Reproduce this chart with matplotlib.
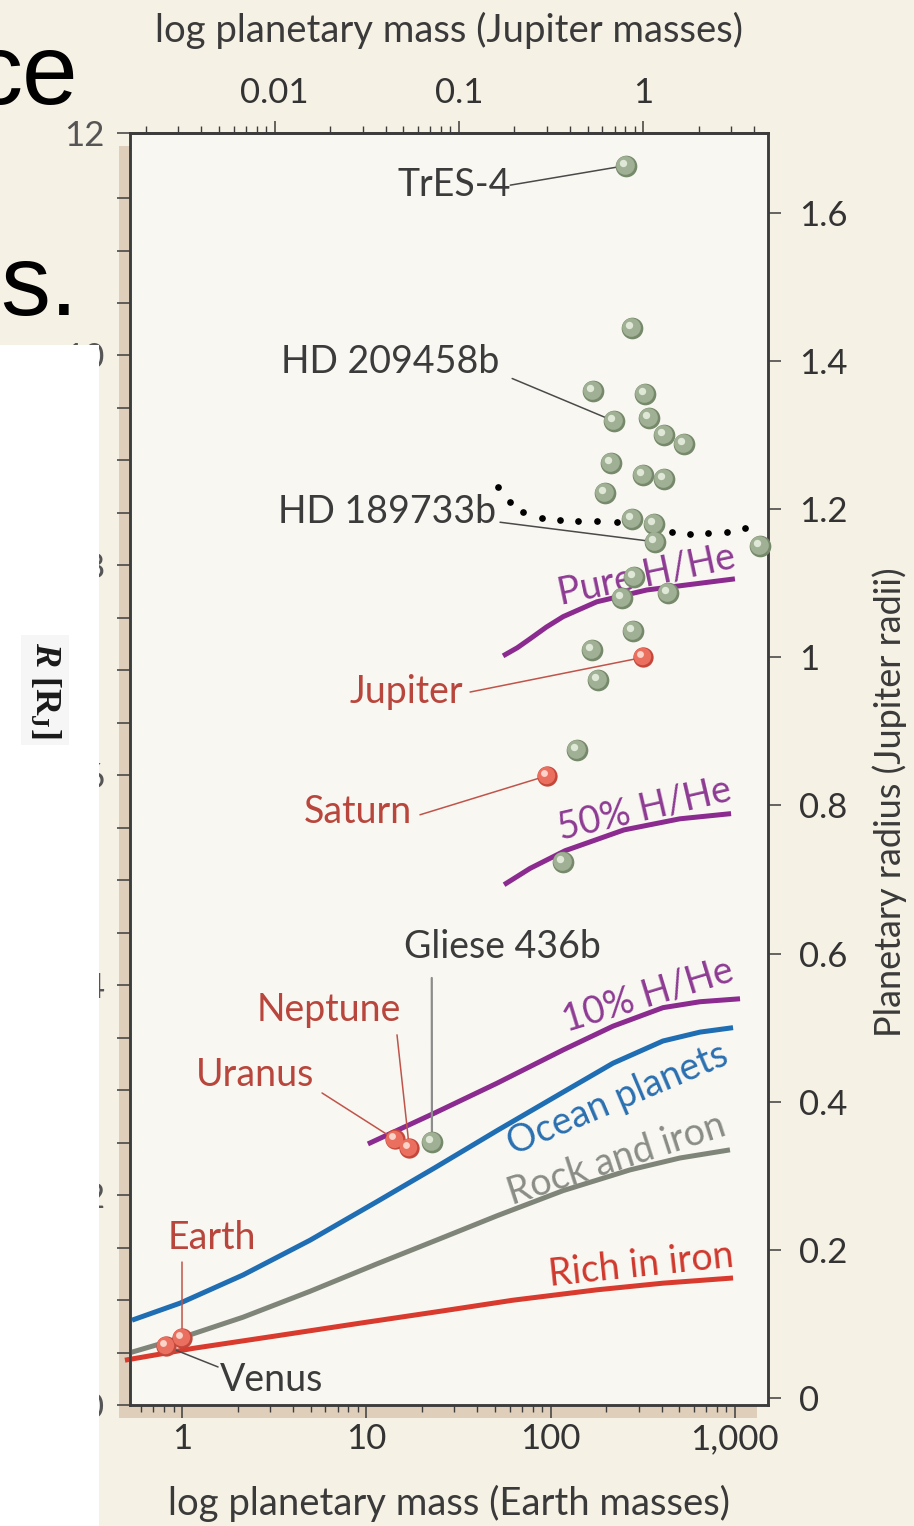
""" Planetary mass-radius diagram with model curves and known planets. """

import numpy as np
import matplotlib.pyplot as plt
from matplotlib.patches import Rectangle
from matplotlib.ticker import FixedLocator, NullFormatter
from matplotlib.transforms import offset_copy

plt.rcParams['font.family'] = ['Lato', 'DejaVu Sans']
# mathtext is only used for the R [R_J] label of the slide underneath
plt.rcParams['mathtext.fontset'] = 'custom'
plt.rcParams['mathtext.rm'] = 'Liberation Serif:bold'
plt.rcParams['mathtext.it'] = 'Liberation Serif:italic:bold'

# ---- Model curves: mass in Earth masses, radius in Jupiter radii ----
iron_mass = [0.49, 1.15, 3.28, 9.25, 25.1, 62.5, 178, 407, 977]
iron_radius = [0.051, 0.067, 0.084, 0.101, 0.117, 0.132, 0.146, 0.155, 0.162]

rock_mass = [0.52, 1.01, 2.14, 4.95, 11.4, 25.1, 51.2, 117, 270, 503, 940]
rock_radius = [0.061, 0.082, 0.109, 0.144, 0.181, 0.215, 0.246, 0.280,
               0.308, 0.324, 0.335]

ocean_mass = [0.535, 0.975, 2.14, 4.95, 11.4, 23.6, 51.2, 117, 218, 407,
              647, 977]
ocean_radius = [0.105, 0.128, 0.166, 0.213, 0.265, 0.311, 0.361, 0.413,
                0.452, 0.482, 0.494, 0.500]

hhe10_mass = [10.2, 23.6, 51.2, 117, 218, 407, 647, 1066]
hhe10_radius = [0.343, 0.385, 0.425, 0.470, 0.502, 0.527, 0.535, 0.539]

hhe50_mass = [55.9, 77.3, 120, 250, 503, 953]
hhe50_radius = [0.693, 0.715, 0.739, 0.767, 0.782, 0.789]

pure_mass = [55.2, 66, 77.3, 95, 117, 178, 333, 1000]
pure_radius = [1.002, 1.013, 1.025, 1.041, 1.055, 1.075, 1.091, 1.106]

dotted_mass = [51.8, 60.2, 70.8, 89.8, 112.5, 140.8, 178.5, 229, 290.5, 364,
               456, 570, 715, 906, 1135]
dotted_radius = [1.230, 1.210, 1.196, 1.188, 1.186, 1.184, 1.184, 1.183,
                 1.180, 1.176, 1.169, 1.167, 1.168, 1.169, 1.175]

# ---- Transiting exoplanets (green spheres) ----
exo_mass = [256.6, 276.6, 169.9, 325, 220.8, 342, 412, 529, 212.6, 317, 412,
            197, 277, 364, 368, 1368, 284, 244, 433, 280, 168, 181, 139,
            116.8, 22.7]
exo_radius = [1.664, 1.445, 1.360, 1.356, 1.319, 1.323, 1.300, 1.288, 1.262,
              1.246, 1.241, 1.222, 1.187, 1.180, 1.156, 1.150, 1.109, 1.080,
              1.087, 1.036, 1.010, 0.969, 0.875, 0.724, 0.346]

# ---- Solar system planets (red spheres) ----
sol_names = ['Jupiter', 'Saturn', 'Neptune', 'Uranus', 'Earth', 'Venus']
sol_mass = [318, 95.2, 17.1, 14.3, 1.0, 0.815]
sol_radius = [1.0, 0.84, 0.338, 0.349, 0.081, 0.070]

# Axis ticks
bottom_ticks = [1, 10, 100, 1000]
bottom_labels = ['1', '10', '100', '1,000']
top_ticks = [0.01, 0.1, 1]
top_labels = ['0.01', '0.1', '1']
right_ticks = [0, 0.2, 0.4, 0.6, 0.8, 1.0, 1.2, 1.4, 1.6]
right_labels = ['0', '0.2', '0.4', '0.6', '0.8', '1', '1.2', '1.4', '1.6']
# left axis belongs to the slide underneath; its "12" sits at the frame top
left_top = 12.12
left_ticks = list(np.arange(0, 12, 0.5)) + [left_top]
left_labels = [f'{v:g}' if v % 2 == 0 else '' for v in left_ticks[:-1]] + ['12']

# Colours
DARK = '#3c3c3c'
PURPLE = '#8b2a8f'
BLUE = '#1f6db3'
GREY = '#80857a'
RED = '#d93a2e'
PLANET_RED = '#b9463c'

# ---- Figure and axes ----
W, H = 914, 1526
fig = plt.figure(figsize=(W / 100, H / 100), dpi=100, facecolor='#f6f1e5')
L, R, T, B = 130, 768, 133, 1405
ax = fig.add_axes([L / W, 1 - B / H, (R - L) / W, (B - T) / H])
ax.set_facecolor('#f8f7f2')

# tan "shadow" behind the plot frame
fig.add_artist(Rectangle(((L - 11) / W, 1 - (B + 13) / H), (R - L) / W,
                         (B - T) / H, transform=fig.transFigure,
                         facecolor='#dfcfba', edgecolor='none', zorder=-1))

ax.set_xscale('log')
ax.set_xlim(0.522, 1512)
ax.set_ylim(0, left_top)
ax.set_xticks(bottom_ticks, labels=bottom_labels)
minor_e = [0.6, 0.7, 0.8, 0.9] + [d * s for d in (1, 10, 100) for s in range(2, 10)]
ax.xaxis.set_minor_locator(FixedLocator(minor_e))
ax.xaxis.set_minor_formatter(NullFormatter())
ax.set_yticks(left_ticks, labels=left_labels)

for sp in ax.spines.values():
    sp.set_color(DARK)
    sp.set_linewidth(1.8)

ax.tick_params(axis='x', which='major', direction='out', length=9, width=1.1,
               color=DARK, labelsize=25, labelcolor='#333333', pad=4)
ax.tick_params(axis='x', which='minor', direction='out', length=5, width=1.0,
               color=DARK)
ax.tick_params(axis='y', direction='out', length=9.5, width=1.1, color=DARK,
               labelsize=25, labelcolor='#555555', pad=9)

ax.set_xlabel('log planetary mass (Earth masses)', fontsize=27.5,
              color='#3a3a3a', va='center')
ax.xaxis.set_label_coords(0.5, -0.077)

# top axis in Jupiter masses
secax = ax.secondary_xaxis('top', functions=(lambda m: m / 317.8,
                                             lambda j: j * 317.8))
secax.set_xticks(top_ticks, labels=top_labels)
minor_j = [d * s for d in (0.001, 0.01, 0.1) for s in range(2, 10)] + [2, 3, 4]
secax.xaxis.set_minor_locator(FixedLocator(minor_j))
secax.xaxis.set_minor_formatter(NullFormatter())
secax.tick_params(which='major', direction='out', length=9, width=1.1,
                  color=DARK, labelsize=25, labelcolor='#333333', pad=8)
secax.tick_params(which='minor', direction='out', length=5, width=1.0,
                  color=DARK)
secax.spines['top'].set_color(DARK)
secax.spines['top'].set_linewidth(1.8)
secax.set_xlabel('log planetary mass (Jupiter masses)', fontsize=27.5,
                 color='#3a3a3a', va='center')
secax.xaxis.set_label_coords(0.5, 1.081, transform=ax.transAxes)

# right axis in Jupiter radii (all data are drawn here)
ax2 = ax.twinx()
ax2.set_ylim(-0.0095, 1.708)
ax2.set_yticks(right_ticks, labels=right_labels)
ax2.tick_params(axis='y', direction='out', length=9.5, width=1.1, color=DARK,
                labelsize=25, labelcolor='#333333', pad=13)
for sp in ax2.spines.values():
    sp.set_color(DARK)
    sp.set_linewidth(1.8)
ax2.set_ylabel('Planetary radius (Jupiter radii)', fontsize=26,
               color='#3a3a3a', rotation=90, va='center', ha='center')
ax2.yaxis.set_label_coords(1.191, 0.474)

# ---- Model curves ----
curve_style = dict(lw=3.6, zorder=2, solid_capstyle='butt',
                   solid_joinstyle='round')
ax2.plot(iron_mass, iron_radius, color=RED, clip_on=False, **curve_style)
ax2.plot(rock_mass, rock_radius, color=GREY, **curve_style)
ax2.plot(ocean_mass, ocean_radius, color=BLUE, **curve_style)
ax2.plot(hhe10_mass, hhe10_radius, color=PURPLE, **curve_style)
ax2.plot(hhe50_mass, hhe50_radius, color=PURPLE, **curve_style)
ax2.plot(pure_mass, pure_radius, color=PURPLE, **curve_style)
ax2.plot(dotted_mass, dotted_radius, 'o', color='black', ms=3.8, zorder=2)

# curve labels (axes fraction positions, rotated along the curves)
curve_labels = [('Pure H/He', 0.810, 0.6525, 12, '#8e3b93'),
                ('50% H/He', 0.807, 0.469, 13, '#8e3b93'),
                ('10% H/He', 0.812, 0.322, 17, '#8e3b93'),
                ('Ocean planets', 0.765, 0.240, 23, '#2a6fb0'),
                ('Rock and iron', 0.763, 0.193, 18, '#8a8d86'),
                ('Rich in iron', 0.801, 0.110, 6, '#d0392d')]
for text, fx, fy, rot, col in curve_labels:
    ax2.text(fx, fy, text, transform=ax2.transAxes, fontsize=27, color=col,
             rotation=rot, rotation_mode='anchor', ha='center', va='center',
             zorder=3)


# ---- Spheres: shaded balls built from three stacked markers ----
def draw_spheres(masses, radii, base, edge, light, size):
    ax2.plot(masses, radii, 'o', ms=size, mfc=edge, mec='none', zorder=5,
             clip_on=False)
    ax2.plot(masses, radii, 'o', ms=size * 0.86, mfc=base, mec='none',
             zorder=5.1, clip_on=False,
             transform=offset_copy(ax2.transData, fig=fig, x=-0.9, y=0.9,
                                   units='dots'))
    ax2.plot(masses, radii, 'o', ms=size * 0.34, mfc=light, mec='none',
             zorder=5.2, clip_on=False,
             transform=offset_copy(ax2.transData, fig=fig, x=-3.0, y=3.0,
                                   units='dots'))


draw_spheres(exo_mass, exo_radius, '#a0b094', '#76896b', '#dfe8d6', 15.6)
draw_spheres(sol_mass, sol_radius, '#ea6f5f', '#c4473b', '#fbd3c8', 14.6)

# ---- Planet labels with leader lines ----
# (name, index, text x/y, line start x/y) in axes fraction
exo_labels = [('TrES-4', 0, 0.508, 0.959, 0.596, 0.959),
              ('HD 209458b', 4, 0.4075, 0.820, 0.599, 0.807),
              ('HD 189733b', 14, 0.403, 0.702, 0.580, 0.694),
              ('Gliese 436b', 24, 0.583, 0.360, 0.473, 0.3357)]
for name, i, tx, ty, lx, ly in exo_labels:
    ax2.text(tx, ty, name, transform=ax2.transAxes, fontsize=27,
             color='#3b3b3b', ha='center', va='center', zorder=6)
    lc = '#8c8c8c' if name == 'Gliese 436b' else '#4a4a4a'
    ax2.annotate('', xy=(exo_mass[i], exo_radius[i]), xycoords='data',
                 xytext=(lx, ly), textcoords='axes fraction',
                 arrowprops=dict(arrowstyle='-', color=lc,
                                 lw=1.6 if name == 'Gliese 436b' else 1.1,
                                 shrinkA=0, shrinkB=0), zorder=4)

sol_text_pos = [(0.4326, 0.5605), (0.357, 0.466), (0.312, 0.3105),
                (0.196, 0.2594), (0.1285, 0.1313), (0.2226, 0.0197)]
sol_line_start = [(0.533, 0.5605), (0.4545, 0.464), (0.4185, 0.291),
                  (0.301, 0.2453), (0.0815, 0.1124), (0.138, 0.0299)]
for name, m, r, (tx, ty), (lx, ly) in zip(sol_names, sol_mass, sol_radius,
                                           sol_text_pos, sol_line_start):
    col = '#3b3b3b' if name == 'Venus' else PLANET_RED
    ax2.text(tx, ty, name, transform=ax2.transAxes, fontsize=27, color=col,
             ha='center', va='center', zorder=6)
    ax2.annotate('', xy=(m, r), xycoords='data', xytext=(lx, ly),
                 textcoords='axes fraction',
                 arrowprops=dict(arrowstyle='-',
                                 color='#4a4a4a' if name == 'Venus' else '#c0544a',
                                 lw=1.1, shrinkA=0, shrinkB=0), zorder=4)

# ---- Slide overlay: white box and cut-off slide text ----
fig.add_artist(Rectangle((0, 0), 99 / W, 1 - 345 / H, transform=fig.transFigure,
                         facecolor='white', edgecolor='none', zorder=5))
fig.text(45 / W, 1 - 690 / H, r'$R\ [\mathrm{R}_\mathrm{J}]$', rotation=270,
         ha='center', va='center', fontsize=26, color='#1a1a1a', zorder=6,
         bbox=dict(facecolor='#f6f6f6', edgecolor='none', pad=5))
fig.text(78 / W, 1 - 104 / H, 'ce', ha='right', va='baseline', fontsize=72,
         family='Liberation Sans', color='black', zorder=6)
fig.text(78 / W, 1 - 315 / H, 's.', ha='right', va='baseline', fontsize=72,
         family='Liberation Sans', color='black', zorder=6)

fig.savefig('out.png', dpi=100, facecolor=fig.get_facecolor())
